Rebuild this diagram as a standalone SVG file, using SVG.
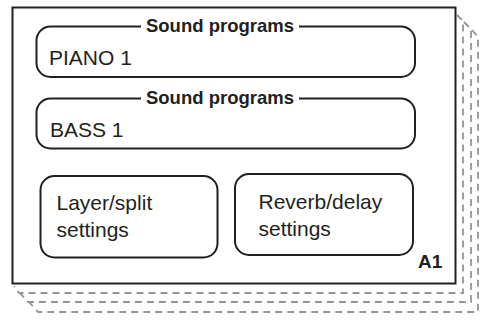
<svg xmlns="http://www.w3.org/2000/svg" width="481" height="320" viewBox="0 0 481 320">
  <style>
    .sheet { fill: none; stroke: #959595; stroke-width: 1.8; stroke-dasharray: 7 5; }
    .frame { fill: #fff; stroke: #231f20; stroke-width: 2; }
    .box { fill: #fff; stroke: #231f20; stroke-width: 2; }
    .txt { font-family: "Liberation Sans", Arial, sans-serif; font-size: 21px; fill: #231f20; }
    .hdr { font-family: "Liberation Sans", Arial, sans-serif; font-size: 18.5px; font-weight: bold; fill: #231f20; text-anchor: middle; }
    .tag { font-family: "Liberation Sans", Arial, sans-serif; font-size: 19px; font-weight: bold; fill: #231f20; }
  </style>

  <!-- stacked sheets behind the main memory page -->
  <g id="sheets">
    <path class="sheet" d="M 457 15 L 463 21 L 463 293 L 19 293 L 14 286"/>
    <path class="sheet" d="M 464 22 L 471 29 L 471 302 L 28 302 L 20 293"/>
    <path class="sheet" d="M 472 30 L 478 37 L 478 312 L 38 312 L 29 302"/>
  </g>

  <!-- main page -->
  <g id="page">
    <rect class="frame" x="12.5" y="7.5" width="443" height="276"/>
    <text class="tag" x="418" y="268">A1</text>
  </g>

  <g id="program1">
    <rect class="box" x="36.5" y="26.5" width="378.5" height="50.5" rx="14"/>
    <rect x="141" y="18" width="158" height="16" fill="#fff"/>
    <text class="hdr" x="220" y="31.5">Sound programs</text>
    <text class="txt" x="49" y="65">PIANO 1</text>
  </g>

  <g id="program2">
    <rect class="box" x="36.5" y="98.5" width="378.5" height="50" rx="14"/>
    <rect x="141" y="90" width="158" height="16" fill="#fff"/>
    <text class="hdr" x="220" y="103.5">Sound programs</text>
    <text class="txt" x="50" y="136.5">BASS 1</text>
  </g>

  <g id="layer-split">
    <rect class="box" x="40.5" y="176" width="177" height="81.5" rx="14"/>
    <text class="txt" x="56.5" y="210">Layer/split</text>
    <text class="txt" x="56.5" y="236.5">settings</text>
  </g>

  <g id="reverb-delay">
    <rect class="box" x="235" y="174" width="178" height="81" rx="14"/>
    <text class="txt" x="258.5" y="209">Reverb/delay</text>
    <text class="txt" x="258.5" y="236">settings</text>
  </g>
</svg>
